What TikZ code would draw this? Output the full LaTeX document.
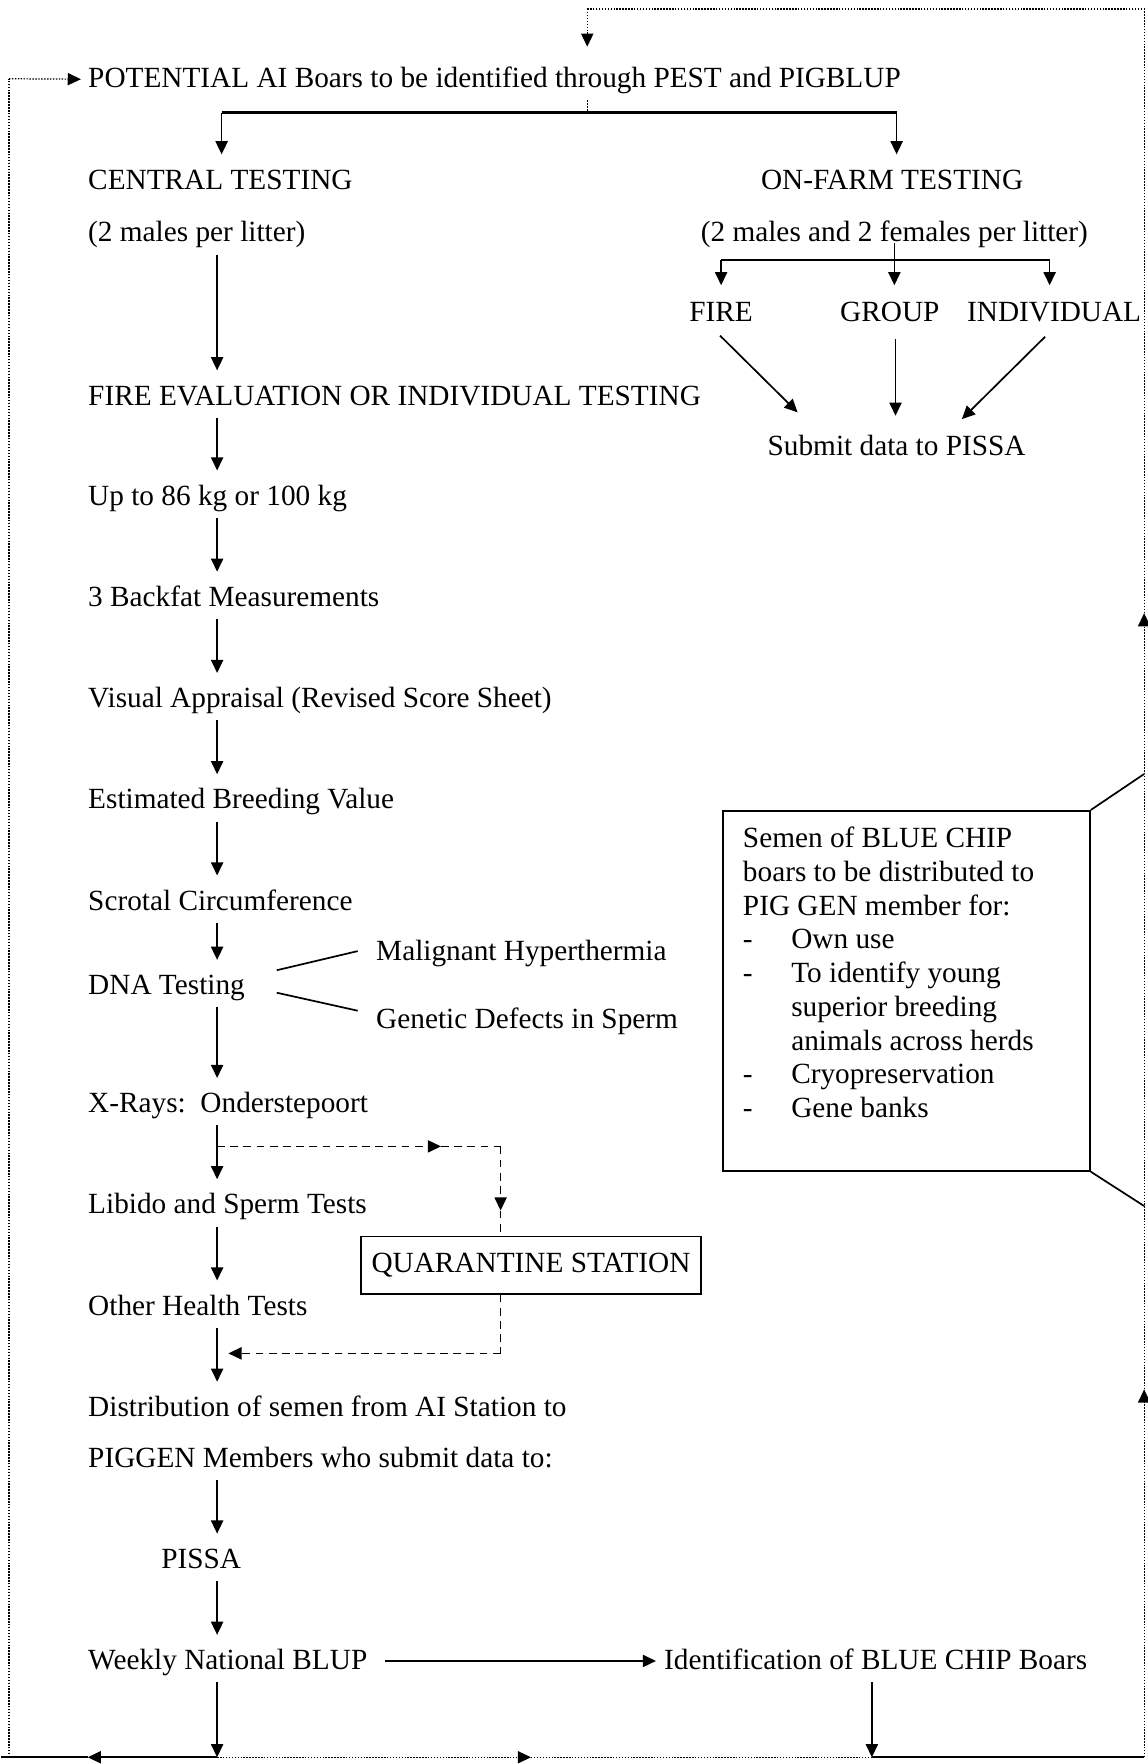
\documentclass[tikz,border=0pt]{standalone}
\usepackage{fontspec}
\setmainfont{Liberation Serif}
\usetikzlibrary{arrows.meta,calc}
\begin{document}
\begin{tikzpicture}[x=0.461pt,y=-0.461pt,
  every node/.style={font=\fontsize{12}{13.83}\selectfont},
  txt/.style={anchor=base west, inner xsep=0pt, inner ysep=4pt, text height=8pt, text depth=1pt},
  ctxt/.style={txt, anchor=base},
  ln/.style={line width=0.7pt},
  tip/.style={-{Triangle[length=5.4pt,width=5pt]}},
  arr/.style={ln, tip},
  varr/.style={ln, tip, shorten >=2pt},
  dotln/.style={line width=0.5pt, dash pattern=on 0.6pt off 0.6pt},
  dashln/.style={line width=0.6pt, dash pattern=on 3.2pt off 2.2pt}
]
\useasboundingbox (0,0) rectangle (1020,1568);
\coordinate (trunk) at (193,0);

% ---- text nodes ----
\node[txt] (pot) at (78,78) {POTENTIAL AI Boars to be identified through PEST and PIGBLUP};
\node[txt] (central) at (78,168) {CENTRAL TESTING};
\node[ctxt] (onfarm) at (793,168) {ON-FARM TESTING};
\node[txt] (cmales) at (78,215) {(2 males per litter)};
\node[ctxt] (omales) at (795,215) {(2 males and 2 females per litter)};
\node[ctxt] (fire) at (641,286) {FIRE};
\node[ctxt] (group) at (791,286) {GROUP};
\node[ctxt] (indiv) at (937,286) {INDIVIDUAL};
\node[ctxt] (submit) at (797,405) {Submit data to PISSA};
\node[txt] (fireeval) at (78,360) {FIRE EVALUATION OR INDIVIDUAL TESTING};
\node[txt] (upto) at (78,449) {Up to 86 kg or 100 kg};
\node[txt] (backfat) at (78,539) {3 Backfat Measurements};
\node[txt] (visual) at (78,629) {Visual Appraisal (Revised Score Sheet)};
\node[txt] (ebv) at (78,719) {Estimated Breeding Value};
\node[txt] (scrotal) at (78,809) {Scrotal Circumference};
\node[txt] (dna) at (78,884) {DNA Testing};
\node[txt] (mal) at (334,854) {Malignant Hyperthermia};
\node[txt] (gen) at (334,914) {Genetic Defects in Sperm};
\node[txt] (xray) at (78,989) {X-Rays:\ \ Onderstepoort};
\node[txt] (libido) at (78,1079) {Libido and Sperm Tests};
\node[txt] (health) at (78,1169) {Other Health Tests};
\node[txt] (dist) at (78,1259) {Distribution of semen from AI Station to};
\node[txt] (piggen) at (78,1304) {PIGGEN Members who submit data to:};
\node[txt] (pissa) at (143,1394) {PISSA};
\node[txt] (weekly) at (78,1484) {Weekly National BLUP};
\node[txt] (ident) at (590,1484) {Identification of BLUE CHIP Boars};
\node[draw, ln, minimum width=139.2pt, minimum height=23.5pt, inner sep=0] (quar) at (472,1124.5) {QUARANTINE STATION};
\node[draw, ln, anchor=north west, minimum width=150.3pt, minimum height=147.5pt, inner sep=0] (box) at (642,720) {};
\node[anchor=north west, inner sep=0] (semen) at (660,732) {\begin{tabular}{@{}p{19.8pt}@{}l@{}}
\multicolumn{2}{@{}l@{}}{Semen of BLUE CHIP}\\
\multicolumn{2}{@{}l@{}}{boars to be distributed to}\\
\multicolumn{2}{@{}l@{}}{PIG GEN member for:}\\
-&Own use\\
-&To identify young\\
&superior breeding\\
&animals across herds\\
-&Cryopreservation\\
-&Gene banks
\end{tabular}};

% ---- coordinates ----
\coordinate (brk) at (522,100);
\coordinate (brL) at (197,100);
\coordinate (brR) at (797,100);
\coordinate (f1) at (641,231);
\coordinate (fC) at (795,231);
\coordinate (f3) at (933,231);
\coordinate (b1) at (193,1562);
\coordinate (bL) at (8,1562);
\coordinate (mL) at (78,1562);
\coordinate (mC) at (472,1562);
\coordinate (b2) at (775,1562);
\coordinate (bR) at (1017,1562);
\coordinate (mR1) at (1017,1235);
\coordinate (mR2) at (1017,545);
\coordinate (tR) at (1017,8);
\coordinate (tM) at (522,8);
\coordinate (lT) at (8,70);
\coordinate (cT) at (1017,688);
\coordinate (cB) at (1017,1072);
\coordinate (xbr) at (193,1019);
\coordinate (qm1) at (392,1019);
\coordinate (qc1) at (445,1019);
\coordinate (qm2) at (445,1076);
\coordinate (qc2) at (445,1203);
\coordinate (hj) at (203,1203);

% ---- top branching ----
\draw[dotln] (pot.south -| brk) -- (brk);
\draw[ln, line width=1.2pt] (brL) -- (brR);
\draw[varr] (brL) -- (central.north -| brL);
\draw[varr] (brR) -- (onfarm.north -| brR);

% ---- on-farm branch ----
\draw[ln] ([yshift=-4pt]omales.center -| fC) -- (fC);
\draw[ln] (f1) -- (f3);
\draw[arr] (f1) -- ($(fire.north)+(0,-6)$);
\draw[arr] (fC) -- ($(group.north)+(4,-6)$);
\draw[arr] (f3) -- ($(indiv.north)+(-4,-6)$);
\draw[arr] ($(fire.south)+(-1,1)$) -- ($(submit.north)+(-88,-12)$);
\draw[arr] ($(group.south)+(5,4)$) -- ($(submit.north)+(-1,-9)$);
\draw[arr] ($(indiv.south)+(-8,2)$) -- ($(submit.north)+(58,-6)$);

% ---- central trunk ----
\draw[varr] (cmales.south -| trunk) -- (fireeval.north -| trunk);
\draw[varr] (fireeval.south -| trunk) -- (upto.north -| trunk);
\draw[varr] (upto.south -| trunk) -- (backfat.north -| trunk);
\draw[varr] (backfat.south -| trunk) -- (visual.north -| trunk);
\draw[varr] (visual.south -| trunk) -- (ebv.north -| trunk);
\draw[varr] (ebv.south -| trunk) -- (scrotal.north -| trunk);
\draw[varr] (scrotal.south -| trunk) -- (dna.north -| trunk);
\draw[varr] (dna.south -| trunk) -- (xray.north -| trunk);
\draw[varr] (xray.south -| trunk) -- (libido.north -| trunk);
\draw[varr] (libido.south -| trunk) -- (health.north -| trunk);
\draw[varr] (health.south -| trunk) -- (dist.north -| trunk);
\draw[varr] (piggen.south -| trunk) -- (pissa.north -| trunk);
\draw[varr] (pissa.south -| trunk) -- (weekly.north -| trunk);
\draw[arr] (weekly.south -| trunk) -- (b1);
\draw[arr] (ident.south -| b2) -- (b2);
\draw[arr] ([xshift=7pt]weekly.east) -- ([xshift=-3.2pt]ident.west);

% ---- DNA side lines ----
\draw[ln] ($(dna.east)+(28,-14)$) -- ($(mal.west)+(-16,-1)$);
\draw[ln] ($(dna.east)+(28,6)$) -- ($(gen.west)+(-16,-8)$);

% ---- quarantine loop ----
\draw[dashln, tip] (xbr) -- (qm1);
\draw[dashln] (qm1) -- (qc1);
\draw[dashln, tip] (qc1) -- (qm2);
\draw[dashln] (qm2) -- (quar.north -| qc1);
\draw[dashln] (quar.south -| qc1) -- (qc2);
\draw[dashln, tip] (qc2) -- (hj);

% ---- callout ----
\draw[ln] (box.north east) -- (cT);
\draw[ln] (box.south east) -- (cB);

% ---- outer feedback loop ----
\draw[ln, tip] (b1) -- (mL);
\draw[ln] (mL) -- (1,1562);
\draw[dotln] (bL) -- (lT);
\draw[dotln, tip] (lT) -- ([xshift=-2.8pt]pot.west);
\draw[dotln, tip] (b1) -- (mC);
\draw[dotln] (mC) -- (b2);
\draw[ln] (b2) -- (bR);
\draw[dotln, tip] (bR) -- (mR1);
\draw[dotln, tip] (mR1) -- (mR2);
\draw[dotln] (mR2) -- (tR) -- (tM);
\draw[dotln, tip, shorten >=4.6pt] (tM) -- (pot.north -| tM);
\end{tikzpicture}
\end{document}
